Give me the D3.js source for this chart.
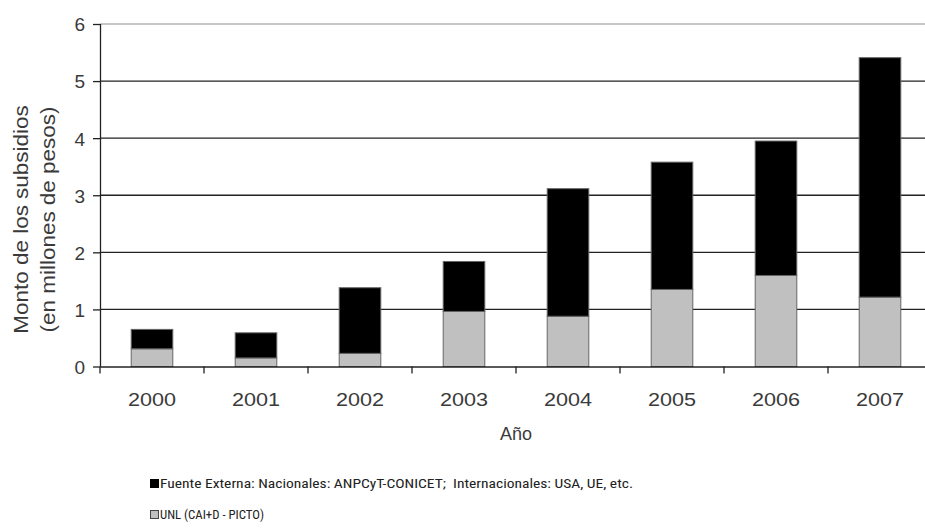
<!DOCTYPE html>
<html><head><meta charset="utf-8">
<script src="https://cdn.jsdelivr.net/npm/d3@7"></script>
<style>body{margin:0;background:#fff}svg{display:block}text{white-space:pre}</style>
</head><body>
<svg id="c" width="925" height="529"></svg>
<script>
const years = ["2000","2001","2002","2003","2004","2005","2006","2007"];
const unl = [0.31, 0.15, 0.23, 0.965, 0.88, 1.35, 1.595, 1.215];
const externa = [0.34, 0.44, 1.15, 0.875, 2.235, 2.23, 2.355, 4.195];
const yTicks = [0,1,2,3,4,5,6];
const legendLabels = ["Fuente Externa: Nacionales: ANPCyT-CONICET;  Internacionales: USA, UE, etc.", "UNL (CAI+D - PICTO)"];
const colors = ["#000000", "#c0c0c0"];

const svg = d3.select("#c");
const m = {l:100, r:932, t:24, b:366.5};
const x = d3.scaleBand().domain(years).range([m.l, m.r]).paddingInner(0.6).paddingOuter(0.3);
const y = d3.scaleLinear().domain([0,6]).range([m.b, m.t]);
const font = "'Liberation Sans', Arial, sans-serif";
const txt = "#3a3a3a";

// gridlines
svg.append("g").selectAll("line").data(yTicks.filter(d=>d>0)).join("line")
  .attr("x1", m.l).attr("x2", 925).attr("y1", d=>y(d)).attr("y2", d=>y(d))
  .attr("stroke", d=> d===6 ? "#b4b4b4" : "#222").attr("stroke-width", 1.3);

// stacked bars
const data = years.map((yr,i)=>({year:yr, unl:unl[i], ext:externa[i]}));
const stack = d3.stack().keys(["unl","ext"]);
const series = stack(data);
const colorOf = {ext: colors[0], unl: colors[1]};
svg.append("g").selectAll("g").data(series).join("g")
  .attr("fill", d=>colorOf[d.key])
  .selectAll("rect").data(d=>d).join("rect")
  .attr("x", d=>x(d.data.year)).attr("width", x.bandwidth())
  .attr("y", d=>y(d[1])).attr("height", d=>y(d[0])-y(d[1]))
  .attr("stroke", "#666").attr("stroke-width", 1);

// y axis
const yAxis = svg.append("g").attr("transform", `translate(${m.l},0)`)
  .call(d3.axisLeft(y).tickValues(yTicks).tickSize(7).tickPadding(8).tickFormat(d3.format("d")));
yAxis.select(".domain").attr("stroke", "#222").attr("stroke-width", 1.3).attr("d", `M0.5,${y(6)}V${y(0)}`);
yAxis.selectAll(".tick line").attr("stroke", "#222").attr("stroke-width", 1.3);
yAxis.selectAll("text").attr("font-family", font).attr("font-size", 19).attr("fill", txt).attr("dy","0.36em");

// x axis
const xAxis = svg.append("g").attr("transform", `translate(0,${m.b})`)
  .call(d3.axisBottom(x).tickSize(0).tickPadding(26.5));
xAxis.select(".domain").attr("stroke", "#222").attr("stroke-width", 1.3).attr("d", `M${m.l},0.5H925`);
xAxis.selectAll("text").attr("font-family", font).attr("font-size", 18).attr("fill", txt)
  .attr("transform", "scale(1.2,1)");
// boundary ticks
const bounds = years.map(d=>x(d) - x.step()*x.paddingInner()/2);
xAxis.append("g").selectAll("line").data(bounds).join("line")
  .attr("x1", d=>d).attr("x2", d=>d).attr("y1", 0).attr("y2", 7)
  .attr("stroke", "#222").attr("stroke-width", 1.3);

// axis titles
svg.append("text").attr("x", (m.l+m.r)/2).attr("y", 440).attr("text-anchor","middle")
  .attr("font-family", font).attr("font-size", 18).attr("fill", txt).text("Año");
const yt = svg.append("text").attr("transform", "translate(0,219.5) rotate(-90) scale(1.08,1)")
  .attr("text-anchor","middle").attr("font-family", font).attr("font-size", 20.8).attr("fill", txt);
yt.append("tspan").attr("x",0).attr("y",28.5).text("Monto de los subsidios");
yt.append("tspan").attr("x",0).attr("y",55).text("(en millones de pesos)");

// legend
const lg = svg.append("g");
const lw = [473, 104];
legendLabels.forEach((t,i)=>{
  const yy = 488 + i*31;
  lg.append("rect").attr("x",150.5).attr("y",yy-8.5).attr("width",8).attr("height",8)
    .attr("fill", colors[i]).attr("stroke", i===1 ? "#444" : "#000").attr("stroke-width",1);
  lg.append("text").attr("x",160).attr("y",yy).attr("font-family","'Roboto Condensed', 'DejaVu Sans Condensed', sans-serif")
    .attr("font-size",13).attr("fill","#222").attr("textLength", lw[i]).attr("lengthAdjust","spacingAndGlyphs").text(t);
});
</script>
</body></html>
